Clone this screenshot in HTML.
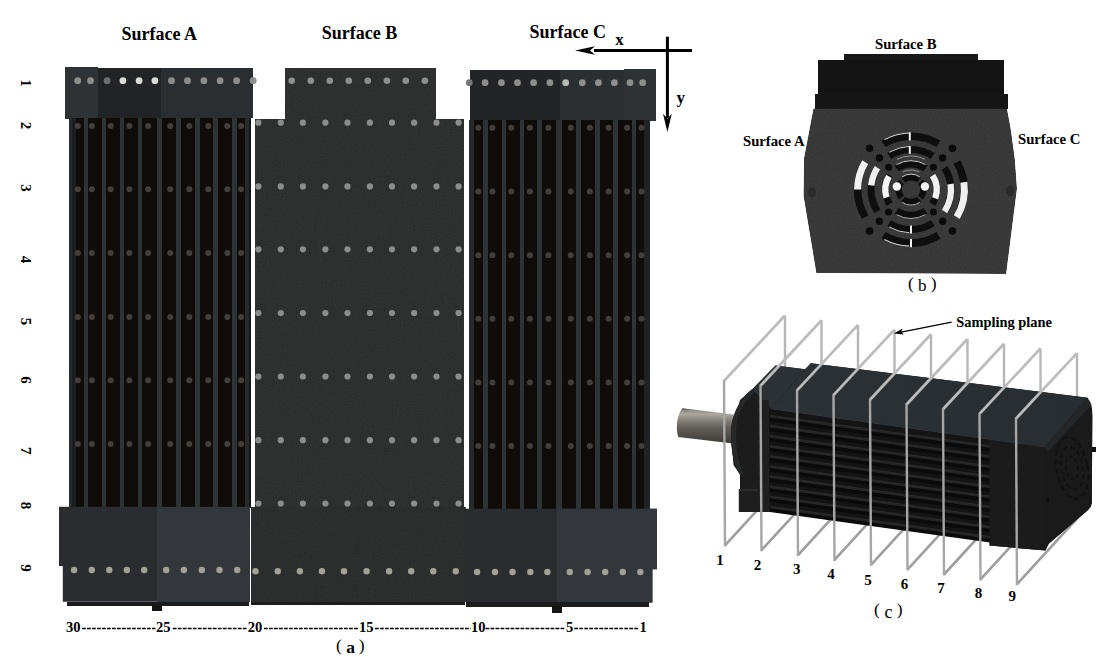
<!DOCTYPE html><html><head><meta charset="utf-8"><style>html,body{margin:0;padding:0;background:#fff;overflow:hidden}svg{display:block}text{font-family:"Liberation Serif",serif}</style></head><body>
<svg width="1104" height="657" viewBox="0 0 1104 657">
<defs>
<filter id="noise" x="0" y="0" width="100%" height="100%" color-interpolation-filters="sRGB"><feTurbulence type="fractalNoise" baseFrequency="0.75" numOctaves="2" seed="3" result="t"/><feColorMatrix in="t" type="matrix" values="0.33 0.33 0.33 0 0  0.33 0.33 0.33 0 0  0.33 0.33 0.33 0 0  0 0 0 0 1" result="g"/><feComposite in="SourceGraphic" in2="g" operator="arithmetic" k1="0" k2="1" k3="0.10" k4="-0.05" result="c"/><feComposite in="c" in2="SourceAlpha" operator="in"/></filter>
<linearGradient id="shaft" x1="0" y1="0" x2="0" y2="1"><stop offset="0" stop-color="#3e3b37"/><stop offset="0.06" stop-color="#8e8b82"/><stop offset="0.17" stop-color="#aba89e"/><stop offset="0.32" stop-color="#8a867e"/><stop offset="0.56" stop-color="#625d57"/><stop offset="0.8" stop-color="#4e4a45"/><stop offset="1" stop-color="#3e3a36"/></linearGradient>
</defs>
<rect width="1104" height="657" fill="#fff"/>
<text x="121.4" y="39.8" font-size="18" font-weight="bold" text-anchor="start" fill="#000" >Surface A</text>
<text x="321.7" y="38.7" font-size="18" font-weight="bold" text-anchor="start" fill="#000" >Surface B</text>
<text x="529.6" y="38.4" font-size="18" font-weight="bold" text-anchor="start" fill="#000" >Surface C</text>
<rect x="65.0" y="66.5" width="32.5" height="52.0" fill="#2f3235" shape-rendering="crispEdges" />
<rect x="97.5" y="68.0" width="63.0" height="50.0" fill="#212325" shape-rendering="crispEdges" />
<rect x="160.5" y="68.0" width="92.3" height="50.0" fill="#2b2e31" shape-rendering="crispEdges" />
<rect x="69.0" y="118.0" width="182.0" height="389.5" fill="#100c0a" shape-rendering="crispEdges" />
<rect x="69.0" y="118.0" width="3.0" height="389.5" fill="#262a2c" shape-rendering="crispEdges" />
<rect x="72.0" y="118.0" width="3.5" height="389.5" fill="#1a1e20" shape-rendering="crispEdges" />
<rect x="244.6" y="118.0" width="3.9" height="389.5" fill="#262a2d" shape-rendering="crispEdges" />
<rect x="248.5" y="118.0" width="2.5" height="389.5" fill="#161616" shape-rendering="crispEdges" />
<rect x="83.8" y="118.0" width="4.3" height="389.5" fill="#2e3336" shape-rendering="crispEdges" />
<rect x="102.0" y="118.0" width="4.3" height="389.5" fill="#2e3336" shape-rendering="crispEdges" />
<rect x="119.8" y="118.0" width="4.4" height="389.5" fill="#2e3336" shape-rendering="crispEdges" />
<rect x="137.8" y="118.0" width="4.4" height="389.5" fill="#2e3336" shape-rendering="crispEdges" />
<rect x="156.9" y="118.0" width="5.5" height="389.5" fill="#2e3336" shape-rendering="crispEdges" />
<rect x="176.4" y="118.0" width="4.8" height="389.5" fill="#2e3336" shape-rendering="crispEdges" />
<rect x="194.9" y="118.0" width="4.8" height="389.5" fill="#2e3336" shape-rendering="crispEdges" />
<rect x="212.8" y="118.0" width="4.8" height="389.5" fill="#2e3336" shape-rendering="crispEdges" />
<rect x="231.9" y="118.0" width="5.2" height="389.5" fill="#2e3336" shape-rendering="crispEdges" />
<circle cx="77.8" cy="126.0" r="3.00" fill="#443e3a" />
<circle cx="91.9" cy="126.0" r="3.00" fill="#443e3a" />
<circle cx="110.7" cy="126.0" r="3.00" fill="#443e3a" />
<circle cx="129.4" cy="126.0" r="3.00" fill="#443e3a" />
<circle cx="148.1" cy="126.0" r="3.00" fill="#443e3a" />
<circle cx="170.2" cy="126.0" r="3.00" fill="#443e3a" />
<circle cx="189.3" cy="126.0" r="3.00" fill="#443e3a" />
<circle cx="208.3" cy="126.0" r="3.00" fill="#443e3a" />
<circle cx="227.3" cy="126.0" r="3.00" fill="#443e3a" />
<circle cx="241.1" cy="126.0" r="3.00" fill="#443e3a" />
<circle cx="77.8" cy="189.2" r="3.00" fill="#443e3a" />
<circle cx="91.9" cy="189.2" r="3.00" fill="#443e3a" />
<circle cx="110.7" cy="189.2" r="3.00" fill="#443e3a" />
<circle cx="129.4" cy="189.2" r="3.00" fill="#443e3a" />
<circle cx="148.1" cy="189.2" r="3.00" fill="#443e3a" />
<circle cx="170.2" cy="189.2" r="3.00" fill="#443e3a" />
<circle cx="189.3" cy="189.2" r="3.00" fill="#443e3a" />
<circle cx="208.3" cy="189.2" r="3.00" fill="#443e3a" />
<circle cx="227.3" cy="189.2" r="3.00" fill="#443e3a" />
<circle cx="241.1" cy="189.2" r="3.00" fill="#443e3a" />
<circle cx="77.8" cy="253.1" r="3.00" fill="#443e3a" />
<circle cx="91.9" cy="253.1" r="3.00" fill="#443e3a" />
<circle cx="110.7" cy="253.1" r="3.00" fill="#443e3a" />
<circle cx="129.4" cy="253.1" r="3.00" fill="#443e3a" />
<circle cx="148.1" cy="253.1" r="3.00" fill="#443e3a" />
<circle cx="170.2" cy="253.1" r="3.00" fill="#443e3a" />
<circle cx="189.3" cy="253.1" r="3.00" fill="#443e3a" />
<circle cx="208.3" cy="253.1" r="3.00" fill="#443e3a" />
<circle cx="227.3" cy="253.1" r="3.00" fill="#443e3a" />
<circle cx="241.1" cy="253.1" r="3.00" fill="#443e3a" />
<circle cx="77.8" cy="317.0" r="3.00" fill="#443e3a" />
<circle cx="91.9" cy="317.0" r="3.00" fill="#443e3a" />
<circle cx="110.7" cy="317.0" r="3.00" fill="#443e3a" />
<circle cx="129.4" cy="317.0" r="3.00" fill="#443e3a" />
<circle cx="148.1" cy="317.0" r="3.00" fill="#443e3a" />
<circle cx="170.2" cy="317.0" r="3.00" fill="#443e3a" />
<circle cx="189.3" cy="317.0" r="3.00" fill="#443e3a" />
<circle cx="208.3" cy="317.0" r="3.00" fill="#443e3a" />
<circle cx="227.3" cy="317.0" r="3.00" fill="#443e3a" />
<circle cx="241.1" cy="317.0" r="3.00" fill="#443e3a" />
<circle cx="77.8" cy="380.2" r="3.00" fill="#443e3a" />
<circle cx="91.9" cy="380.2" r="3.00" fill="#443e3a" />
<circle cx="110.7" cy="380.2" r="3.00" fill="#443e3a" />
<circle cx="129.4" cy="380.2" r="3.00" fill="#443e3a" />
<circle cx="148.1" cy="380.2" r="3.00" fill="#443e3a" />
<circle cx="170.2" cy="380.2" r="3.00" fill="#443e3a" />
<circle cx="189.3" cy="380.2" r="3.00" fill="#443e3a" />
<circle cx="208.3" cy="380.2" r="3.00" fill="#443e3a" />
<circle cx="227.3" cy="380.2" r="3.00" fill="#443e3a" />
<circle cx="241.1" cy="380.2" r="3.00" fill="#443e3a" />
<circle cx="77.8" cy="444.0" r="3.00" fill="#443e3a" />
<circle cx="91.9" cy="444.0" r="3.00" fill="#443e3a" />
<circle cx="110.7" cy="444.0" r="3.00" fill="#443e3a" />
<circle cx="129.4" cy="444.0" r="3.00" fill="#443e3a" />
<circle cx="148.1" cy="444.0" r="3.00" fill="#443e3a" />
<circle cx="170.2" cy="444.0" r="3.00" fill="#443e3a" />
<circle cx="189.3" cy="444.0" r="3.00" fill="#443e3a" />
<circle cx="208.3" cy="444.0" r="3.00" fill="#443e3a" />
<circle cx="227.3" cy="444.0" r="3.00" fill="#443e3a" />
<circle cx="241.1" cy="444.0" r="3.00" fill="#443e3a" />
<polygon points="59.0,506.8 250.0,506.8 250.0,601.7 62.8,601.7 62.8,566.0 59.0,566.0" fill="#2a2c2f" />
<rect x="156.5" y="506.8" width="93.5" height="94.9" fill="#33373b" shape-rendering="crispEdges" />
<rect x="67.0" y="601.5" width="182.0" height="4.3" fill="#1c1c1c" shape-rendering="crispEdges" />
<rect x="152.0" y="605.0" width="10.0" height="5.5" fill="#151515" shape-rendering="crispEdges" />
<circle cx="77.7" cy="80.7" r="3.40" fill="#8d8d8b" />
<circle cx="90.5" cy="80.7" r="3.40" fill="#8d8d8b" />
<circle cx="107.1" cy="80.7" r="3.40" fill="#6e6e6e" />
<circle cx="122.9" cy="80.7" r="3.40" fill="#dcdad4" />
<circle cx="139.1" cy="80.7" r="3.40" fill="#dcdad4" />
<circle cx="154.9" cy="80.7" r="3.40" fill="#dcdad4" />
<circle cx="171.5" cy="80.7" r="3.40" fill="#8d8d8b" />
<circle cx="187.5" cy="80.7" r="3.40" fill="#8d8d8b" />
<circle cx="203.9" cy="80.7" r="3.40" fill="#8d8d8b" />
<circle cx="220.1" cy="80.7" r="3.40" fill="#8d8d8b" />
<circle cx="236.6" cy="80.7" r="3.40" fill="#8d8d8b" />
<circle cx="253.2" cy="80.7" r="3.40" fill="#8d8d8b" />
<circle cx="74.1" cy="570.0" r="3.20" fill="#a3a196" />
<circle cx="91.8" cy="570.0" r="3.20" fill="#a3a196" />
<circle cx="109.3" cy="570.0" r="3.20" fill="#a3a196" />
<circle cx="126.8" cy="570.0" r="3.20" fill="#a3a196" />
<circle cx="144.2" cy="570.0" r="3.20" fill="#a3a196" />
<circle cx="166.2" cy="570.0" r="3.20" fill="#a3a196" />
<circle cx="183.9" cy="570.0" r="3.20" fill="#a3a196" />
<circle cx="201.8" cy="570.0" r="3.20" fill="#a3a196" />
<circle cx="219.5" cy="570.0" r="3.20" fill="#a3a196" />
<circle cx="237.2" cy="570.0" r="3.20" fill="#a3a196" />
<rect x="285.0" y="67.7" width="151.0" height="51.5" fill="#2e3030" shape-rendering="crispEdges"  filter="url(#noise)"/>
<rect x="255.0" y="119.0" width="209.3" height="388.0" fill="#2e3030" shape-rendering="crispEdges"  filter="url(#noise)"/>
<rect x="250.5" y="506.8" width="215.0" height="95.0" fill="#2c2e2e" shape-rendering="crispEdges"  filter="url(#noise)"/>
<rect x="251.0" y="601.5" width="214.0" height="3.2" fill="#1d1d1d" shape-rendering="crispEdges" />
<circle cx="291.7" cy="80.7" r="3.30" fill="#8f8f8f" />
<circle cx="310.8" cy="80.7" r="3.30" fill="#8f8f8f" />
<circle cx="329.8" cy="80.7" r="3.30" fill="#8f8f8f" />
<circle cx="348.8" cy="80.7" r="3.30" fill="#8f8f8f" />
<circle cx="367.8" cy="80.7" r="3.30" fill="#8f8f8f" />
<circle cx="386.9" cy="80.7" r="3.30" fill="#8f8f8f" />
<circle cx="405.8" cy="80.7" r="3.30" fill="#8f8f8f" />
<circle cx="424.9" cy="80.7" r="3.30" fill="#8f8f8f" />
<circle cx="258.4" cy="122.7" r="3.10" fill="#8d8d8d" />
<circle cx="280.8" cy="122.7" r="3.10" fill="#8d8d8d" />
<circle cx="302.9" cy="122.7" r="3.10" fill="#8d8d8d" />
<circle cx="325.4" cy="122.7" r="3.10" fill="#8d8d8d" />
<circle cx="347.5" cy="122.7" r="3.10" fill="#8d8d8d" />
<circle cx="369.9" cy="122.7" r="3.10" fill="#8d8d8d" />
<circle cx="392.0" cy="122.7" r="3.10" fill="#8d8d8d" />
<circle cx="414.1" cy="122.7" r="3.10" fill="#8d8d8d" />
<circle cx="436.5" cy="122.7" r="3.10" fill="#8d8d8d" />
<circle cx="458.6" cy="122.7" r="3.10" fill="#8d8d8d" />
<circle cx="258.4" cy="186.4" r="3.10" fill="#8d8d8d" />
<circle cx="280.8" cy="186.4" r="3.10" fill="#8d8d8d" />
<circle cx="302.9" cy="186.4" r="3.10" fill="#8d8d8d" />
<circle cx="325.4" cy="186.4" r="3.10" fill="#8d8d8d" />
<circle cx="347.5" cy="186.4" r="3.10" fill="#8d8d8d" />
<circle cx="369.9" cy="186.4" r="3.10" fill="#8d8d8d" />
<circle cx="392.0" cy="186.4" r="3.10" fill="#8d8d8d" />
<circle cx="414.1" cy="186.4" r="3.10" fill="#8d8d8d" />
<circle cx="436.5" cy="186.4" r="3.10" fill="#8d8d8d" />
<circle cx="458.6" cy="186.4" r="3.10" fill="#8d8d8d" />
<circle cx="258.4" cy="249.3" r="3.10" fill="#8d8d8d" />
<circle cx="280.8" cy="249.3" r="3.10" fill="#8d8d8d" />
<circle cx="302.9" cy="249.3" r="3.10" fill="#8d8d8d" />
<circle cx="325.4" cy="249.3" r="3.10" fill="#8d8d8d" />
<circle cx="347.5" cy="249.3" r="3.10" fill="#8d8d8d" />
<circle cx="369.9" cy="249.3" r="3.10" fill="#8d8d8d" />
<circle cx="392.0" cy="249.3" r="3.10" fill="#8d8d8d" />
<circle cx="414.1" cy="249.3" r="3.10" fill="#8d8d8d" />
<circle cx="436.5" cy="249.3" r="3.10" fill="#8d8d8d" />
<circle cx="458.6" cy="249.3" r="3.10" fill="#8d8d8d" />
<circle cx="258.4" cy="313.0" r="3.10" fill="#8d8d8d" />
<circle cx="280.8" cy="313.0" r="3.10" fill="#8d8d8d" />
<circle cx="302.9" cy="313.0" r="3.10" fill="#8d8d8d" />
<circle cx="325.4" cy="313.0" r="3.10" fill="#8d8d8d" />
<circle cx="347.5" cy="313.0" r="3.10" fill="#8d8d8d" />
<circle cx="369.9" cy="313.0" r="3.10" fill="#8d8d8d" />
<circle cx="392.0" cy="313.0" r="3.10" fill="#8d8d8d" />
<circle cx="414.1" cy="313.0" r="3.10" fill="#8d8d8d" />
<circle cx="436.5" cy="313.0" r="3.10" fill="#8d8d8d" />
<circle cx="458.6" cy="313.0" r="3.10" fill="#8d8d8d" />
<circle cx="258.4" cy="376.5" r="3.10" fill="#8d8d8d" />
<circle cx="280.8" cy="376.5" r="3.10" fill="#8d8d8d" />
<circle cx="302.9" cy="376.5" r="3.10" fill="#8d8d8d" />
<circle cx="325.4" cy="376.5" r="3.10" fill="#8d8d8d" />
<circle cx="347.5" cy="376.5" r="3.10" fill="#8d8d8d" />
<circle cx="369.9" cy="376.5" r="3.10" fill="#8d8d8d" />
<circle cx="392.0" cy="376.5" r="3.10" fill="#8d8d8d" />
<circle cx="414.1" cy="376.5" r="3.10" fill="#8d8d8d" />
<circle cx="436.5" cy="376.5" r="3.10" fill="#8d8d8d" />
<circle cx="458.6" cy="376.5" r="3.10" fill="#8d8d8d" />
<circle cx="258.4" cy="440.2" r="3.10" fill="#8d8d8d" />
<circle cx="280.8" cy="440.2" r="3.10" fill="#8d8d8d" />
<circle cx="302.9" cy="440.2" r="3.10" fill="#8d8d8d" />
<circle cx="325.4" cy="440.2" r="3.10" fill="#8d8d8d" />
<circle cx="347.5" cy="440.2" r="3.10" fill="#8d8d8d" />
<circle cx="369.9" cy="440.2" r="3.10" fill="#8d8d8d" />
<circle cx="392.0" cy="440.2" r="3.10" fill="#8d8d8d" />
<circle cx="414.1" cy="440.2" r="3.10" fill="#8d8d8d" />
<circle cx="436.5" cy="440.2" r="3.10" fill="#8d8d8d" />
<circle cx="458.6" cy="440.2" r="3.10" fill="#8d8d8d" />
<circle cx="258.4" cy="503.5" r="3.10" fill="#8d8d8d" />
<circle cx="280.8" cy="503.5" r="3.10" fill="#8d8d8d" />
<circle cx="302.9" cy="503.5" r="3.10" fill="#8d8d8d" />
<circle cx="325.4" cy="503.5" r="3.10" fill="#8d8d8d" />
<circle cx="347.5" cy="503.5" r="3.10" fill="#8d8d8d" />
<circle cx="369.9" cy="503.5" r="3.10" fill="#8d8d8d" />
<circle cx="392.0" cy="503.5" r="3.10" fill="#8d8d8d" />
<circle cx="414.1" cy="503.5" r="3.10" fill="#8d8d8d" />
<circle cx="436.5" cy="503.5" r="3.10" fill="#8d8d8d" />
<circle cx="458.6" cy="503.5" r="3.10" fill="#8d8d8d" />
<circle cx="255.5" cy="571.2" r="3.20" fill="#a3a196" />
<circle cx="277.8" cy="571.2" r="3.20" fill="#a3a196" />
<circle cx="299.9" cy="571.2" r="3.20" fill="#a3a196" />
<circle cx="322.0" cy="571.2" r="3.20" fill="#a3a196" />
<circle cx="344.0" cy="571.2" r="3.20" fill="#a3a196" />
<circle cx="366.6" cy="571.2" r="3.20" fill="#a3a196" />
<circle cx="389.1" cy="571.2" r="3.20" fill="#a3a196" />
<circle cx="411.2" cy="571.2" r="3.20" fill="#a3a196" />
<circle cx="433.3" cy="571.2" r="3.20" fill="#a3a196" />
<circle cx="455.8" cy="571.2" r="3.20" fill="#a3a196" />
<rect x="469.7" y="69.7" width="90.3" height="50.0" fill="#222426" shape-rendering="crispEdges" />
<rect x="560.0" y="69.7" width="63.5" height="50.0" fill="#2c2f32" shape-rendering="crispEdges" />
<rect x="623.5" y="69.0" width="32.3" height="52.3" fill="#2f3235" shape-rendering="crispEdges" />
<rect x="468.7" y="119.7" width="181.0" height="389.0" fill="#100c0a" shape-rendering="crispEdges" />
<rect x="468.7" y="119.7" width="5.0" height="389.0" fill="#262a2c" shape-rendering="crispEdges" />
<rect x="643.6" y="119.7" width="6.0" height="389.0" fill="#202325" shape-rendering="crispEdges" />
<rect x="483.2" y="119.7" width="4.3" height="389.0" fill="#2e3336" shape-rendering="crispEdges" />
<rect x="501.6" y="119.7" width="4.3" height="389.0" fill="#2e3336" shape-rendering="crispEdges" />
<rect x="519.5" y="119.7" width="4.5" height="389.0" fill="#2e3336" shape-rendering="crispEdges" />
<rect x="537.2" y="119.7" width="4.5" height="389.0" fill="#2e3336" shape-rendering="crispEdges" />
<rect x="556.0" y="119.7" width="6.0" height="389.0" fill="#2e3336" shape-rendering="crispEdges" />
<rect x="576.4" y="119.7" width="5.0" height="389.0" fill="#2e3336" shape-rendering="crispEdges" />
<rect x="594.8" y="119.7" width="5.0" height="389.0" fill="#2e3336" shape-rendering="crispEdges" />
<rect x="613.2" y="119.7" width="5.0" height="389.0" fill="#2e3336" shape-rendering="crispEdges" />
<rect x="631.6" y="119.7" width="4.3" height="389.0" fill="#2e3336" shape-rendering="crispEdges" />
<circle cx="478.3" cy="127.7" r="3.00" fill="#443e3a" />
<circle cx="492.4" cy="127.7" r="3.00" fill="#443e3a" />
<circle cx="511.2" cy="127.7" r="3.00" fill="#443e3a" />
<circle cx="529.9" cy="127.7" r="3.00" fill="#443e3a" />
<circle cx="548.4" cy="127.7" r="3.00" fill="#443e3a" />
<circle cx="570.8" cy="127.7" r="3.00" fill="#443e3a" />
<circle cx="589.8" cy="127.7" r="3.00" fill="#443e3a" />
<circle cx="608.6" cy="127.7" r="3.00" fill="#443e3a" />
<circle cx="627.1" cy="127.7" r="3.00" fill="#443e3a" />
<circle cx="641.5" cy="127.7" r="3.00" fill="#443e3a" />
<circle cx="478.3" cy="191.5" r="3.00" fill="#443e3a" />
<circle cx="492.4" cy="191.5" r="3.00" fill="#443e3a" />
<circle cx="511.2" cy="191.5" r="3.00" fill="#443e3a" />
<circle cx="529.9" cy="191.5" r="3.00" fill="#443e3a" />
<circle cx="548.4" cy="191.5" r="3.00" fill="#443e3a" />
<circle cx="570.8" cy="191.5" r="3.00" fill="#443e3a" />
<circle cx="589.8" cy="191.5" r="3.00" fill="#443e3a" />
<circle cx="608.6" cy="191.5" r="3.00" fill="#443e3a" />
<circle cx="627.1" cy="191.5" r="3.00" fill="#443e3a" />
<circle cx="641.5" cy="191.5" r="3.00" fill="#443e3a" />
<circle cx="478.3" cy="255.2" r="3.00" fill="#443e3a" />
<circle cx="492.4" cy="255.2" r="3.00" fill="#443e3a" />
<circle cx="511.2" cy="255.2" r="3.00" fill="#443e3a" />
<circle cx="529.9" cy="255.2" r="3.00" fill="#443e3a" />
<circle cx="548.4" cy="255.2" r="3.00" fill="#443e3a" />
<circle cx="570.8" cy="255.2" r="3.00" fill="#443e3a" />
<circle cx="589.8" cy="255.2" r="3.00" fill="#443e3a" />
<circle cx="608.6" cy="255.2" r="3.00" fill="#443e3a" />
<circle cx="627.1" cy="255.2" r="3.00" fill="#443e3a" />
<circle cx="641.5" cy="255.2" r="3.00" fill="#443e3a" />
<circle cx="478.3" cy="318.8" r="3.00" fill="#443e3a" />
<circle cx="492.4" cy="318.8" r="3.00" fill="#443e3a" />
<circle cx="511.2" cy="318.8" r="3.00" fill="#443e3a" />
<circle cx="529.9" cy="318.8" r="3.00" fill="#443e3a" />
<circle cx="548.4" cy="318.8" r="3.00" fill="#443e3a" />
<circle cx="570.8" cy="318.8" r="3.00" fill="#443e3a" />
<circle cx="589.8" cy="318.8" r="3.00" fill="#443e3a" />
<circle cx="608.6" cy="318.8" r="3.00" fill="#443e3a" />
<circle cx="627.1" cy="318.8" r="3.00" fill="#443e3a" />
<circle cx="641.5" cy="318.8" r="3.00" fill="#443e3a" />
<circle cx="478.3" cy="382.4" r="3.00" fill="#443e3a" />
<circle cx="492.4" cy="382.4" r="3.00" fill="#443e3a" />
<circle cx="511.2" cy="382.4" r="3.00" fill="#443e3a" />
<circle cx="529.9" cy="382.4" r="3.00" fill="#443e3a" />
<circle cx="548.4" cy="382.4" r="3.00" fill="#443e3a" />
<circle cx="570.8" cy="382.4" r="3.00" fill="#443e3a" />
<circle cx="589.8" cy="382.4" r="3.00" fill="#443e3a" />
<circle cx="608.6" cy="382.4" r="3.00" fill="#443e3a" />
<circle cx="627.1" cy="382.4" r="3.00" fill="#443e3a" />
<circle cx="641.5" cy="382.4" r="3.00" fill="#443e3a" />
<circle cx="478.3" cy="446.0" r="3.00" fill="#443e3a" />
<circle cx="492.4" cy="446.0" r="3.00" fill="#443e3a" />
<circle cx="511.2" cy="446.0" r="3.00" fill="#443e3a" />
<circle cx="529.9" cy="446.0" r="3.00" fill="#443e3a" />
<circle cx="548.4" cy="446.0" r="3.00" fill="#443e3a" />
<circle cx="570.8" cy="446.0" r="3.00" fill="#443e3a" />
<circle cx="589.8" cy="446.0" r="3.00" fill="#443e3a" />
<circle cx="608.6" cy="446.0" r="3.00" fill="#443e3a" />
<circle cx="627.1" cy="446.0" r="3.00" fill="#443e3a" />
<circle cx="641.5" cy="446.0" r="3.00" fill="#443e3a" />
<polygon points="466.0,508.8 652.4,508.8 652.4,508.8 657.0,508.8 657.0,569.3 652.4,569.3 652.4,602.4 466.0,602.4" fill="#2a2c2f" />
<polygon points="556.6,508.8 657.0,508.8 657.0,569.3 652.4,569.3 652.4,602.4 556.6,602.4" fill="#33373b" />
<rect x="466.4" y="602.0" width="182.6" height="5.0" fill="#1c1c1c" shape-rendering="crispEdges" />
<rect x="552.0" y="606.0" width="9.8" height="6.7" fill="#151515" shape-rendering="crispEdges" />
<circle cx="469.3" cy="82.7" r="3.40" fill="#777" />
<circle cx="485.1" cy="82.7" r="3.40" fill="#8d8d8b" />
<circle cx="501.4" cy="82.7" r="3.40" fill="#8d8d8b" />
<circle cx="517.5" cy="82.7" r="3.40" fill="#8d8d8b" />
<circle cx="533.6" cy="82.7" r="3.40" fill="#8d8d8b" />
<circle cx="549.9" cy="82.7" r="3.40" fill="#8d8d8b" />
<circle cx="565.7" cy="82.7" r="3.40" fill="#b9b9b5" />
<circle cx="582.3" cy="82.7" r="3.40" fill="#8d8d8b" />
<circle cx="598.4" cy="82.7" r="3.40" fill="#8d8d8b" />
<circle cx="614.4" cy="82.7" r="3.40" fill="#8d8d8b" />
<circle cx="630.0" cy="82.7" r="3.40" fill="#8d8d8b" />
<circle cx="642.7" cy="82.7" r="3.40" fill="#8d8d8b" />
<circle cx="477.1" cy="572.0" r="3.20" fill="#a3a196" />
<circle cx="495.0" cy="572.0" r="3.20" fill="#a3a196" />
<circle cx="512.5" cy="572.0" r="3.20" fill="#a3a196" />
<circle cx="530.3" cy="572.0" r="3.20" fill="#a3a196" />
<circle cx="547.4" cy="572.0" r="3.20" fill="#a3a196" />
<circle cx="569.8" cy="572.0" r="3.20" fill="#a3a196" />
<circle cx="587.6" cy="572.0" r="3.20" fill="#a3a196" />
<circle cx="605.2" cy="572.0" r="3.20" fill="#a3a196" />
<circle cx="622.8" cy="572.0" r="3.20" fill="#a3a196" />
<circle cx="640.3" cy="572.0" r="3.20" fill="#a3a196" />
<text x="0" y="0" font-size="15" font-weight="bold" text-anchor="middle" transform="translate(21.3,83.0) rotate(90)" dy="0">1</text>
<text x="0" y="0" font-size="15" font-weight="bold" text-anchor="middle" transform="translate(21.3,125.5) rotate(90)" dy="0">2</text>
<text x="0" y="0" font-size="15" font-weight="bold" text-anchor="middle" transform="translate(21.3,188.0) rotate(90)" dy="0">3</text>
<text x="0" y="0" font-size="15" font-weight="bold" text-anchor="middle" transform="translate(21.3,259.5) rotate(90)" dy="0">4</text>
<text x="0" y="0" font-size="15" font-weight="bold" text-anchor="middle" transform="translate(21.3,321.5) rotate(90)" dy="0">5</text>
<text x="0" y="0" font-size="15" font-weight="bold" text-anchor="middle" transform="translate(21.3,380.0) rotate(90)" dy="0">6</text>
<text x="0" y="0" font-size="15" font-weight="bold" text-anchor="middle" transform="translate(21.3,450.7) rotate(90)" dy="0">7</text>
<text x="0" y="0" font-size="15" font-weight="bold" text-anchor="middle" transform="translate(21.3,505.5) rotate(90)" dy="0">8</text>
<text x="0" y="0" font-size="15" font-weight="bold" text-anchor="middle" transform="translate(21.3,568.0) rotate(90)" dy="0">9</text>
<line x1="594.0" y1="50.5" x2="692.0" y2="50.5" stroke="#000" stroke-width="3" />
<polygon points="575.0,50.5 595.0,46.3 590.0,50.5 595.0,54.7" fill="#000" />
<line x1="667.4" y1="36.7" x2="667.4" y2="118.0" stroke="#000" stroke-width="3" />
<polygon points="667.4,132.0 663.0,113.8 667.4,118.8 671.8,113.8" fill="#000" />
<text x="615.3" y="45.4" font-size="17" font-weight="bold" text-anchor="start" fill="#000" >x</text>
<text x="676.5" y="103.2" font-size="17" font-weight="bold" text-anchor="start" fill="#000" >y</text>
<text x="66.0" y="631.7" font-size="14.5" font-weight="bold" text-anchor="start" fill="#000" >30</text>
<text x="156.0" y="631.7" font-size="14.5" font-weight="bold" text-anchor="start" fill="#000" >25</text>
<text x="247.7" y="631.7" font-size="14.5" font-weight="bold" text-anchor="start" fill="#000" >20</text>
<text x="359.0" y="631.7" font-size="14.5" font-weight="bold" text-anchor="start" fill="#000" >15</text>
<text x="471.0" y="631.7" font-size="14.5" font-weight="bold" text-anchor="start" fill="#000" >10</text>
<text x="566.0" y="631.7" font-size="14.5" font-weight="bold" text-anchor="start" fill="#000" >5</text>
<text x="639.4" y="631.7" font-size="14.5" font-weight="bold" text-anchor="start" fill="#000" >1</text>
<line x1="82.0" y1="628.4" x2="155.5" y2="628.4" stroke="#000" stroke-width="1.5" stroke-dasharray="3.8 1.2"/>
<line x1="172.8" y1="628.4" x2="247.2" y2="628.4" stroke="#000" stroke-width="1.5" stroke-dasharray="3.8 1.2"/>
<line x1="264.0" y1="628.4" x2="358.5" y2="628.4" stroke="#000" stroke-width="1.5" stroke-dasharray="3.8 1.2"/>
<line x1="375.0" y1="628.4" x2="470.5" y2="628.4" stroke="#000" stroke-width="1.5" stroke-dasharray="3.8 1.2"/>
<line x1="485.5" y1="628.4" x2="565.5" y2="628.4" stroke="#000" stroke-width="1.5" stroke-dasharray="3.8 1.2"/>
<line x1="574.3" y1="628.4" x2="638.9" y2="628.4" stroke="#000" stroke-width="1.5" stroke-dasharray="3.8 1.2"/>
<text x="336.0" y="650.9" font-size="17.5" font-weight="normal" text-anchor="start" fill="#000" >(</text>
<text x="364.6" y="650.9" font-size="17.5" font-weight="normal" text-anchor="end" fill="#000" >)</text>
<text x="350.7" y="652.6" font-size="17.5" font-weight="bold" text-anchor="middle" fill="#000" >a</text>
<text x="875.0" y="48.8" font-size="14.7" font-weight="bold" text-anchor="start" fill="#000" >Surface B</text>
<text x="743.0" y="145.7" font-size="14.7" font-weight="bold" text-anchor="start" fill="#000" >Surface A</text>
<text x="1018.0" y="143.6" font-size="14.7" font-weight="bold" text-anchor="start" fill="#000" >Surface C</text>
<rect x="843.9" y="54.0" width="134.5" height="7.0" fill="#181818" shape-rendering="crispEdges" />
<rect x="818.0" y="60.0" width="185.8" height="49.0" fill="#141414" shape-rendering="crispEdges" />
<rect x="815.0" y="93.6" width="192.5" height="15.5" fill="#161616" shape-rendering="crispEdges" />
<polygon points="813.4,108.6 1007.0,108.6 1010.6,127.7 1014.9,159.6 1017.0,188.6 1006.2,274.0 816.3,273.0 803.5,196.0 804.0,158.0" fill="#393939"  filter="url(#noise)"/>
<ellipse cx="812" cy="192.3" rx="3.2" ry="4.5" fill="#2c2c2c" stroke="#222" stroke-width="0.8"/>
<ellipse cx="1010" cy="190.9" rx="3.2" ry="4.5" fill="#2c2c2c" stroke="#222" stroke-width="0.8"/>
<path d="M956.77,162.10 A53.4,53.4 0 0 1 956.77,217.10" fill="none" stroke="#0e0e0e" stroke-width="7.6" />
<path d="M938.50,235.37 A53.4,53.4 0 0 1 883.50,235.37" fill="none" stroke="#0e0e0e" stroke-width="7.6" />
<path d="M865.23,217.10 A53.4,53.4 0 0 1 865.23,162.10" fill="none" stroke="#0e0e0e" stroke-width="7.6" />
<path d="M883.50,143.83 A53.4,53.4 0 0 1 938.50,143.83" fill="none" stroke="#0e0e0e" stroke-width="7.6" />
<path d="M944.55,167.81 A40,40 0 0 1 944.55,211.39" fill="none" stroke="#0e0e0e" stroke-width="7.0" />
<path d="M932.79,223.15 A40,40 0 0 1 889.21,223.15" fill="none" stroke="#0e0e0e" stroke-width="7.0" />
<path d="M877.45,211.39 A40,40 0 0 1 877.45,167.81" fill="none" stroke="#0e0e0e" stroke-width="7.0" />
<path d="M889.21,156.05 A40,40 0 0 1 932.79,156.05" fill="none" stroke="#0e0e0e" stroke-width="7.0" />
<path d="M932.31,175.23 A25.7,25.7 0 0 1 932.31,203.97" fill="none" stroke="#0e0e0e" stroke-width="7.0" />
<path d="M925.37,210.91 A25.7,25.7 0 0 1 896.63,210.91" fill="none" stroke="#0e0e0e" stroke-width="7.0" />
<path d="M889.69,203.97 A25.7,25.7 0 0 1 889.69,175.23" fill="none" stroke="#0e0e0e" stroke-width="7.0" />
<path d="M896.63,168.29 A25.7,25.7 0 0 1 925.37,168.29" fill="none" stroke="#0e0e0e" stroke-width="7.0" />
<path d="M920.50,181.63 A12.4,12.4 0 0 1 920.50,197.57" fill="none" stroke="#0e0e0e" stroke-width="6.4" />
<path d="M918.97,199.10 A12.4,12.4 0 0 1 903.03,199.10" fill="none" stroke="#0e0e0e" stroke-width="6.4" />
<path d="M901.50,197.57 A12.4,12.4 0 0 1 901.50,181.63" fill="none" stroke="#0e0e0e" stroke-width="6.4" />
<path d="M903.03,180.10 A12.4,12.4 0 0 1 918.97,180.10" fill="none" stroke="#0e0e0e" stroke-width="6.4" />
<path d="M857.60,189.60 A53.4,53.4 0 0 1 865.23,162.10" fill="none" stroke="#f2f2f2" stroke-width="7.0" />
<path d="M871.22,185.42 A40,40 0 0 1 877.45,167.81" fill="none" stroke="#f0f0f0" stroke-width="6.4" />
<path d="M886.56,197.54 A25.7,25.7 0 0 1 888.97,176.36" fill="none" stroke="#f4f4f4" stroke-width="6.4" />
<circle cx="896.9" cy="186.5" r="4.20" fill="#f6f6f6" />
<circle cx="924.9" cy="186.5" r="4.20" fill="#f6f6f6" />
<path d="M932.55,175.60 A25.7,25.7 0 0 1 935.15,198.39" fill="none" stroke="#f2f2f2" stroke-width="6.4" />
<path d="M950.61,184.03 A40,40 0 0 1 944.55,211.39" fill="none" stroke="#eeeeee" stroke-width="6.4" />
<path d="M963.88,182.17 A53.4,53.4 0 0 1 956.77,217.10" fill="none" stroke="#f0f0f0" stroke-width="7.0" />
<path d="M884.43,139.63 A56.6,56.6 0 0 1 910.01,133.01" fill="none" stroke="#d8d8d8" stroke-width="1.1" />
<path d="M889.40,152.19 A43.2,43.2 0 0 1 909.49,146.43" fill="none" stroke="#d0d0d0" stroke-width="1.0" />
<path d="M896.55,164.57 A28.9,28.9 0 0 1 925.45,164.57" fill="none" stroke="#cfcfcf" stroke-width="1.0" />
<path d="M902.11,176.90 A15.5,15.5 0 0 1 919.89,176.90" fill="none" stroke="#cfcfcf" stroke-width="1.0" />
<path d="M896.84,159.24 A33.5,33.5 0 0 1 925.16,159.24" fill="none" stroke="#a8a8a8" stroke-width="0.8" />
<path d="M902.76,171.93 A19.5,19.5 0 0 1 919.24,171.93" fill="none" stroke="#a8a8a8" stroke-width="0.8" />
<path d="M919.89,202.30 A15.5,15.5 0 0 1 902.11,202.30" fill="none" stroke="#bdbdbd" stroke-width="0.9" />
<path d="M925.45,214.63 A28.9,28.9 0 0 1 896.55,214.63" fill="none" stroke="#bdbdbd" stroke-width="0.9" />
<path d="M909.49,232.77 A43.2,43.2 0 0 1 889.40,227.01" fill="none" stroke="#cfcfcf" stroke-width="1.0" />
<path d="M909.02,246.17 A56.6,56.6 0 0 1 884.43,239.57" fill="none" stroke="#d8d8d8" stroke-width="1.1" />
<line x1="909.8" y1="132.3" x2="909.8" y2="140.4" stroke="#f4f4f4" stroke-width="2" />
<line x1="909.8" y1="146.0" x2="909.8" y2="153.8" stroke="#f0f0f0" stroke-width="2" />
<line x1="911.0" y1="225.6" x2="911.0" y2="233.4" stroke="#f0f0f0" stroke-width="2" />
<line x1="911.0" y1="239.0" x2="911.0" y2="247.2" stroke="#f4f4f4" stroke-width="2" />
<circle cx="952.4" cy="231.0" r="3.80" fill="#0b0b0b" />
<circle cx="869.6" cy="231.0" r="3.80" fill="#0b0b0b" />
<circle cx="869.6" cy="148.2" r="3.80" fill="#0b0b0b" />
<circle cx="952.4" cy="148.2" r="3.80" fill="#0b0b0b" />
<circle cx="942.6" cy="221.2" r="3.70" fill="#0b0b0b" />
<circle cx="879.4" cy="221.2" r="3.70" fill="#0b0b0b" />
<circle cx="879.4" cy="158.0" r="3.70" fill="#0b0b0b" />
<circle cx="942.6" cy="158.0" r="3.70" fill="#0b0b0b" />
<circle cx="933.4" cy="212.0" r="3.50" fill="#0b0b0b" />
<circle cx="888.6" cy="212.0" r="3.50" fill="#0b0b0b" />
<circle cx="888.6" cy="167.2" r="3.50" fill="#0b0b0b" />
<circle cx="933.4" cy="167.2" r="3.50" fill="#0b0b0b" />
<text x="907.9" y="288.9" font-size="17.5" font-weight="normal" text-anchor="start" fill="#000" >(</text>
<text x="936.7" y="288.9" font-size="17.5" font-weight="normal" text-anchor="end" fill="#000" >)</text>
<text x="922.2" y="290.7" font-size="17" font-weight="normal" text-anchor="middle" fill="#000" >b</text>
<line x1="785.0" y1="315.5" x2="785.0" y2="479.9" stroke="#b6b6b6" stroke-width="2.4" />
<line x1="725.0" y1="545.4" x2="785.0" y2="479.9" stroke="#9e9e9e" stroke-width="2.6" />
<line x1="821.5" y1="320.2" x2="821.5" y2="484.8" stroke="#b6b6b6" stroke-width="2.4" />
<line x1="761.5" y1="550.2" x2="821.5" y2="484.8" stroke="#9e9e9e" stroke-width="2.6" />
<line x1="858.0" y1="324.9" x2="858.0" y2="489.6" stroke="#b6b6b6" stroke-width="2.4" />
<line x1="798.0" y1="555.1" x2="858.0" y2="489.6" stroke="#9e9e9e" stroke-width="2.6" />
<line x1="894.5" y1="329.6" x2="894.5" y2="494.4" stroke="#b6b6b6" stroke-width="2.4" />
<line x1="834.5" y1="559.9" x2="894.5" y2="494.4" stroke="#9e9e9e" stroke-width="2.6" />
<line x1="931.0" y1="334.3" x2="931.0" y2="499.3" stroke="#b6b6b6" stroke-width="2.4" />
<line x1="871.0" y1="564.8" x2="931.0" y2="499.3" stroke="#9e9e9e" stroke-width="2.6" />
<line x1="967.5" y1="339.0" x2="967.5" y2="504.1" stroke="#b6b6b6" stroke-width="2.4" />
<line x1="907.5" y1="569.6" x2="967.5" y2="504.1" stroke="#9e9e9e" stroke-width="2.6" />
<line x1="1004.0" y1="343.7" x2="1004.0" y2="509.0" stroke="#b6b6b6" stroke-width="2.4" />
<line x1="944.0" y1="574.5" x2="1004.0" y2="509.0" stroke="#9e9e9e" stroke-width="2.6" />
<line x1="1040.5" y1="348.4" x2="1040.5" y2="513.9" stroke="#b6b6b6" stroke-width="2.4" />
<line x1="980.5" y1="579.4" x2="1040.5" y2="513.9" stroke="#9e9e9e" stroke-width="2.6" />
<line x1="1077.0" y1="353.1" x2="1077.0" y2="518.7" stroke="#b6b6b6" stroke-width="2.4" />
<line x1="1017.0" y1="584.2" x2="1077.0" y2="518.7" stroke="#9e9e9e" stroke-width="2.6" />
<path d="M682.3,408.2 L734,414.6 L733,443.4 L678.2,437 C676,430 676,416 682.3,408.2 Z" fill="url(#shaft)"/>
<polygon points="752.3,389.2 775.5,365.5 805.0,369.2 810.8,363.3 1087.6,397.7 1091.0,404.0 1092.3,416.0 1091.8,503.4 1087.5,510.5 1049.0,543.5 1045.5,550.5 989.5,545.6 990.0,539.5 769.3,510.5 769.8,512.0 738.9,512.0 738.9,489.0 740.0,489.0 740.0,474.4 733.5,465.0 731.0,433.0 740.0,400.0" fill="#1b1b1b" />
<path d="M752.3,389.2 C740,398 731,416 731,433 C731,450 733.5,465 740,474.4 L740,489 L738.9,489 L738.9,512 L769.8,512 L769.8,408 Z" fill="#1c1c1c"/>
<path d="M752.3,389.2 C740,398 731,416 731,433 C731,450 733.5,465 740,474.4 L744,474.4 C738.5,464 736,450 736,433 C736,417 743,401 756,391 Z" fill="#262829"/>
<rect x="738.9" y="489.0" width="30.9" height="23.0" fill="#1e1e1e" shape-rendering="crispEdges" />
<rect x="738.9" y="489.0" width="30.9" height="2.0" fill="#2c2c2c" shape-rendering="crispEdges" />
<polygon points="752.3,389.2 775.5,365.5 805.0,369.2 771.0,408.5 760.0,397.0" fill="#2c3136" />
<defs><linearGradient id="topg" x1="0" y1="0" x2="1" y2="0"><stop offset="0" stop-color="#2c3136"/><stop offset="1" stop-color="#282d31"/></linearGradient></defs>
<polygon points="771.0,408.5 810.8,363.3 1087.6,397.7 1044.6,447.2" fill="url(#topg)" />
<line x1="771.0" y1="408.8" x2="1044.6" y2="447.4" stroke="#3a3f44" stroke-width="0.8" />
<polygon points="769.3,409.3 990.0,439.8 990.0,539.5 769.3,510.5" fill="#141414" />
<rect x="769.3" y="409.3" width="0.1" height="0.1" fill="none" shape-rendering="crispEdges" />
<polygon points="770.0,415.1 990.0,445.5 990.0,448.1 770.0,417.7" fill="#242424" />
<polygon points="770.0,417.7 990.0,448.1 990.0,451.5 770.0,421.1" fill="#0a0a0a" />
<line x1="770.0" y1="415.3" x2="990.0" y2="445.7" stroke="#2e2e2e" stroke-width="0.8" />
<polygon points="770.0,425.2 990.0,455.6 990.0,458.2 770.0,427.8" fill="#242424" />
<polygon points="770.0,427.8 990.0,458.2 990.0,461.6 770.0,431.2" fill="#0a0a0a" />
<line x1="770.0" y1="425.4" x2="990.0" y2="455.8" stroke="#2e2e2e" stroke-width="0.8" />
<polygon points="770.0,435.3 990.0,465.7 990.0,468.3 770.0,437.9" fill="#242424" />
<polygon points="770.0,437.9 990.0,468.3 990.0,471.7 770.0,441.3" fill="#0a0a0a" />
<line x1="770.0" y1="435.5" x2="990.0" y2="465.9" stroke="#2e2e2e" stroke-width="0.8" />
<polygon points="770.0,445.4 990.0,475.8 990.0,478.4 770.0,448.0" fill="#242424" />
<polygon points="770.0,448.0 990.0,478.4 990.0,481.8 770.0,451.4" fill="#0a0a0a" />
<line x1="770.0" y1="445.6" x2="990.0" y2="476.0" stroke="#2e2e2e" stroke-width="0.8" />
<polygon points="770.0,455.5 990.0,485.9 990.0,488.5 770.0,458.1" fill="#242424" />
<polygon points="770.0,458.1 990.0,488.5 990.0,491.9 770.0,461.5" fill="#0a0a0a" />
<line x1="770.0" y1="455.7" x2="990.0" y2="486.1" stroke="#2e2e2e" stroke-width="0.8" />
<polygon points="770.0,465.6 990.0,496.0 990.0,498.6 770.0,468.2" fill="#242424" />
<polygon points="770.0,468.2 990.0,498.6 990.0,502.0 770.0,471.6" fill="#0a0a0a" />
<line x1="770.0" y1="465.8" x2="990.0" y2="496.2" stroke="#2e2e2e" stroke-width="0.8" />
<polygon points="770.0,475.7 990.0,506.1 990.0,508.7 770.0,478.3" fill="#242424" />
<polygon points="770.0,478.3 990.0,508.7 990.0,512.1 770.0,481.7" fill="#0a0a0a" />
<line x1="770.0" y1="475.9" x2="990.0" y2="506.3" stroke="#2e2e2e" stroke-width="0.8" />
<polygon points="770.0,485.8 990.0,516.2 990.0,518.8 770.0,488.4" fill="#242424" />
<polygon points="770.0,488.4 990.0,518.8 990.0,522.2 770.0,491.8" fill="#0a0a0a" />
<line x1="770.0" y1="486.0" x2="990.0" y2="516.4" stroke="#2e2e2e" stroke-width="0.8" />
<polygon points="770.0,495.9 990.0,526.3 990.0,528.9 770.0,498.5" fill="#242424" />
<polygon points="770.0,498.5 990.0,528.9 990.0,532.3 770.0,501.9" fill="#0a0a0a" />
<line x1="770.0" y1="496.1" x2="990.0" y2="526.5" stroke="#2e2e2e" stroke-width="0.8" />
<polygon points="770.0,506.0 990.0,536.4 990.0,539.0 770.0,508.6" fill="#242424" />
<polygon points="770.0,508.6 990.0,539.0 990.0,542.4 770.0,512.0" fill="#0a0a0a" />
<line x1="770.0" y1="506.2" x2="990.0" y2="536.6" stroke="#2e2e2e" stroke-width="0.8" />
<rect x="758.4" y="400.0" width="11.0" height="112.0" fill="#1f1f1f" shape-rendering="crispEdges" />
<polygon points="989.5,439.7 1044.6,447.2 1045.5,550.5 989.5,545.6" fill="#1b1b1b" />
<path d="M1044.6,447.2 L1084.5,401.5 Q1087.2,398.8 1089.5,401 L1091.2,405 Q1092.5,410 1092.3,416 L1091.8,503.4 Q1091.5,507.5 1087.5,510.5 L1049,543.5 Q1046,546 1045.5,542 Z" fill="#1a1a1a"/>
<path d="M1044.6,447.2 L1084.5,401.5 Q1087.2,398.8 1089.5,401 L1091.2,405 L1047.5,452 Z" fill="#242628"/>
<ellipse cx="1072" cy="468" rx="6.0" ry="12.0" transform="rotate(-10 1072 468)" fill="none" stroke="#121212" stroke-width="1.6" stroke-dasharray="4 3"/>
<ellipse cx="1072" cy="468" rx="10.8" ry="21.6" transform="rotate(-10 1072 468)" fill="none" stroke="#121212" stroke-width="1.8" stroke-dasharray="5 3"/>
<ellipse cx="1072" cy="468" rx="15.6" ry="31.2" transform="rotate(-10 1072 468)" fill="none" stroke="#121212" stroke-width="2.2" stroke-dasharray="6 3"/>
<rect x="1092.0" y="447.0" width="4.0" height="5.0" fill="#111" shape-rendering="crispEdges" />
<rect x="1046.0" y="497.0" width="3.0" height="5.0" fill="#111" shape-rendering="crispEdges" />
<polyline points="785.0,315.5 724.0,381.0" fill="none" stroke="#bcbcbc" stroke-width="2.8"/>
<line x1="724.0" y1="380.0" x2="725.0" y2="546.4" stroke="#a6a6a6" stroke-width="2.4"/>
<polyline points="821.5,320.2 760.5,385.7" fill="none" stroke="#bcbcbc" stroke-width="2.8"/>
<line x1="760.5" y1="384.7" x2="761.5" y2="551.2" stroke="#a6a6a6" stroke-width="2.4"/>
<polyline points="858.0,324.9 797.0,390.4" fill="none" stroke="#bcbcbc" stroke-width="2.8"/>
<line x1="797.0" y1="389.4" x2="798.0" y2="556.1" stroke="#a6a6a6" stroke-width="2.4"/>
<polyline points="894.5,329.6 833.5,395.1" fill="none" stroke="#bcbcbc" stroke-width="2.8"/>
<line x1="833.5" y1="394.1" x2="834.5" y2="560.9" stroke="#a6a6a6" stroke-width="2.4"/>
<polyline points="931.0,334.3 870.0,399.8" fill="none" stroke="#bcbcbc" stroke-width="2.8"/>
<line x1="870.0" y1="398.8" x2="871.0" y2="565.8" stroke="#a6a6a6" stroke-width="2.4"/>
<polyline points="967.5,339.0 906.5,404.5" fill="none" stroke="#bcbcbc" stroke-width="2.8"/>
<line x1="906.5" y1="403.5" x2="907.5" y2="570.6" stroke="#a6a6a6" stroke-width="2.4"/>
<polyline points="1004.0,343.7 943.0,409.2" fill="none" stroke="#bcbcbc" stroke-width="2.8"/>
<line x1="943.0" y1="408.2" x2="944.0" y2="575.5" stroke="#a6a6a6" stroke-width="2.4"/>
<polyline points="1040.5,348.4 979.5,413.9" fill="none" stroke="#bcbcbc" stroke-width="2.8"/>
<line x1="979.5" y1="412.9" x2="980.5" y2="580.4" stroke="#a6a6a6" stroke-width="2.4"/>
<polyline points="1077.0,353.1 1016.0,418.6" fill="none" stroke="#bcbcbc" stroke-width="2.8"/>
<line x1="1016.0" y1="417.6" x2="1017.0" y2="585.2" stroke="#a6a6a6" stroke-width="2.4"/>
<text x="719.9" y="564.9" font-size="15" font-weight="bold" text-anchor="middle" fill="#000" >1</text>
<text x="757.6" y="570.0" font-size="15" font-weight="bold" text-anchor="middle" fill="#000" >2</text>
<text x="796.8" y="574.2" font-size="15" font-weight="bold" text-anchor="middle" fill="#000" >3</text>
<text x="831.0" y="579.2" font-size="15" font-weight="bold" text-anchor="middle" fill="#000" >4</text>
<text x="868.0" y="584.6" font-size="15" font-weight="bold" text-anchor="middle" fill="#000" >5</text>
<text x="904.5" y="589.0" font-size="15" font-weight="bold" text-anchor="middle" fill="#000" >6</text>
<text x="940.9" y="593.0" font-size="15" font-weight="bold" text-anchor="middle" fill="#000" >7</text>
<text x="978.5" y="597.5" font-size="15" font-weight="bold" text-anchor="middle" fill="#000" >8</text>
<text x="1012.3" y="601.0" font-size="15" font-weight="bold" text-anchor="middle" fill="#000" >9</text>
<text x="956.3" y="327.0" font-size="14.4" font-weight="bold" text-anchor="start" fill="#000" >Sampling plane</text>
<line x1="951.6" y1="322.2" x2="900.0" y2="332.3" stroke="#000" stroke-width="1.3" />
<polygon points="893.9,333.5 902.5,328.6 901.2,331.9 903.9,334.5" fill="#000" />
<text x="874.1" y="614.9" font-size="17.5" font-weight="normal" text-anchor="start" fill="#000" >(</text>
<text x="902.5" y="614.9" font-size="17.5" font-weight="normal" text-anchor="end" fill="#000" >)</text>
<text x="888.5" y="617.6" font-size="18" font-weight="normal" text-anchor="middle" fill="#000" >c</text>
</svg></body></html>
